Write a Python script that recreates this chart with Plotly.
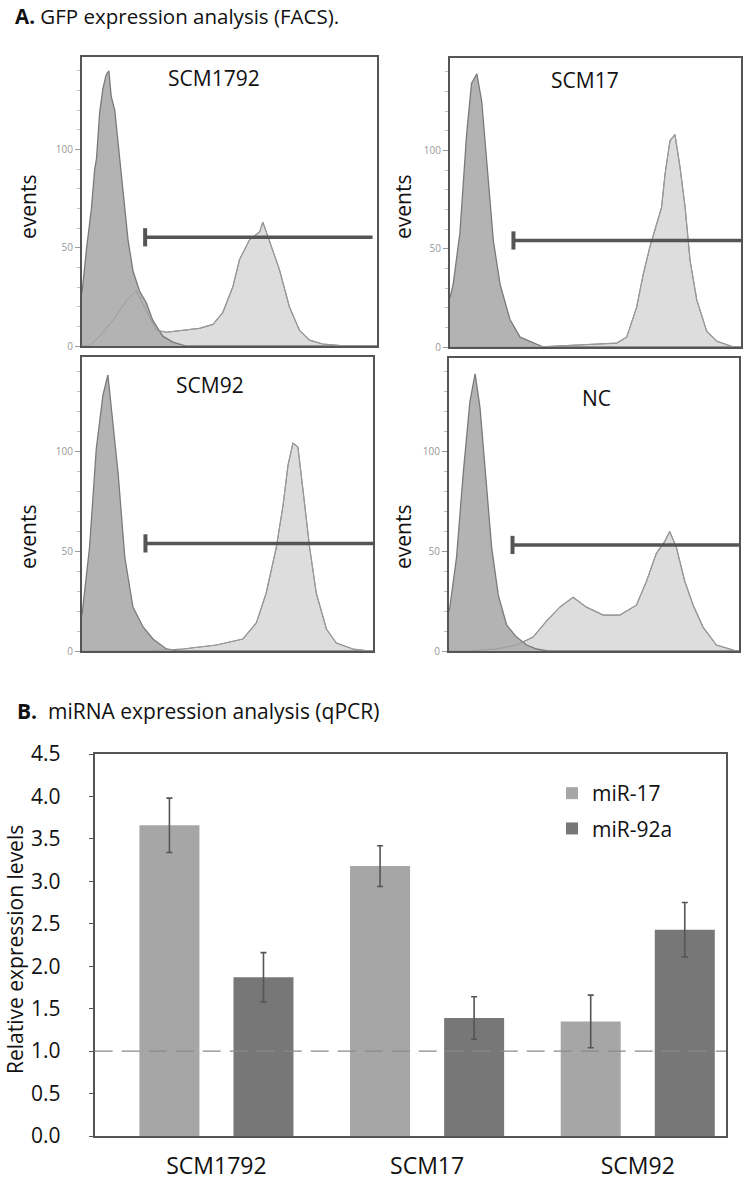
import plotly.graph_objects as go

# ---------------- Panel A data (FACS histograms, x = GFP channel 0-100, y = events) ----------------
scm1792_neg_x = [0, 1.5, 3.2, 4.3, 4.9, 6.0, 7.1, 8.2, 9.1, 9.9, 11.1, 12.2, 13.9, 15.6, 17.3, 19.5, 21.8, 24.0, 27.4, 30.8, 35.3, 100]
scm1792_neg_y = [27, 49, 70, 90, 95, 119, 131, 138, 140, 127, 120, 104, 80, 54, 38, 28, 22, 13, 5, 2, 0, 0]
scm1792_gfp_x = [0, 2.6, 6.0, 10.5, 15.0, 18.4, 21.8, 25.2, 28.6, 34.2, 39.8, 44.4, 47.7, 51.1, 53.4, 56.8, 60.2, 61.3, 63.5, 66.9, 70.3, 73.7, 77.1, 81.6, 89.5, 100]
scm1792_gfp_y = [0, 0, 5, 13, 23, 28, 18, 8, 7, 8, 9, 11, 17, 30, 44, 54, 58, 63, 54, 39, 20, 8, 3, 1, 0, 0]

scm17_neg_x = [0, 1.1, 3.4, 5.7, 7.4, 9.2, 10.9, 12.6, 14.9, 17.2, 20.6, 24.1, 28.6, 32.1, 100]
scm17_neg_y = [25, 32, 58, 108, 134, 139, 125, 95, 54, 32, 14, 5, 2, 0, 0]
scm17_gfp_x = [0, 29.8, 57.3, 60.7, 64.1, 66.4, 68.7, 71.0, 72.7, 73.9, 75.6, 77.3, 79.0, 80.8, 82.5, 84.8, 88.2, 91.6, 97.4, 100]
scm17_gfp_y = [0, 0, 2, 5, 20, 37, 51, 63, 71, 88, 105, 108, 92, 71, 44, 24, 8, 3, 0, 0]

scm92_neg_x = [0, 0.3, 2.6, 4.9, 7.2, 8.9, 10.7, 12.4, 14.7, 17.5, 21.0, 24.4, 29.0, 33.0, 100]
scm92_neg_y = [18, 22, 52, 101, 128, 138, 114, 89, 47, 22, 12, 6, 1, 0, 0]
scm92_gfp_x = [0, 23.3, 34.7, 46.2, 55.3, 59.9, 63.3, 66.8, 69.1, 70.8, 72.5, 74.2, 75.9, 78.2, 80.5, 84.0, 87.4, 93.1, 98.9, 100]
scm92_gfp_y = [0, 0, 1, 3, 6, 14, 29, 52, 73, 93, 104, 102, 81, 52, 29, 11, 4, 1, 0, 0]

nc_neg_x = [0, 0.3, 2.6, 4.9, 7.2, 9.0, 10.7, 12.4, 14.7, 17.0, 19.9, 23.3, 26.8, 30.2, 34.0, 100]
nc_neg_y = [20, 22, 47, 89, 125, 139, 122, 94, 52, 28, 13, 7, 3, 1, 0, 0]
nc_gfp_x = [0, 7.2, 16.4, 23.3, 29.0, 33.6, 38.2, 42.8, 47.4, 53.2, 58.9, 64.6, 68.1, 71.5, 74.4, 76.1, 78.4, 81.3, 84.2, 87.6, 92.2, 96.8, 99.1, 100]
nc_gfp_y = [0, 0, 1, 3, 7, 15, 22, 27, 22, 18, 18, 23, 35, 49, 55, 60, 52, 35, 23, 12, 3, 1, 0, 0]

panel_names = ["SCM1792", "SCM17", "SCM92", "NC"]
gate_start = [21.4, 21.8, 21.8, 21.9]
gate_end = [98.5, 100, 100, 100]
gate_level = [55.3, 54.2, 53.8, 53.2]
events_ticks = [0, 50, 100]

# ---------------- Panel B data (qPCR) ----------------
categories = ["SCM1792", "SCM17", "SCM92"]
mir17 = [3.66, 3.18, 1.35]
mir17_err = [0.32, 0.24, 0.31]
mir92a = [1.87, 1.39, 2.43]
mir92a_err = [0.29, 0.25, 0.32]
b_ticks = [0.0, 0.5, 1.0, 1.5, 2.0, 2.5, 3.0, 3.5, 4.0, 4.5]
ref_level = 1.0

# ---------------- layout helpers ----------------
W, H = 750, 1183
def px(x):
    return x / W
def py(y):
    return 1 - y / H

FONT = "Open Sans"
fig = go.Figure()

neg_xs = [scm1792_neg_x, scm17_neg_x, scm92_neg_x, nc_neg_x]
neg_ys = [scm1792_neg_y, scm17_neg_y, scm92_neg_y, nc_neg_y]
gfp_xs = [scm1792_gfp_x, scm17_gfp_x, scm92_gfp_x, nc_gfp_x]
gfp_ys = [scm1792_gfp_y, scm17_gfp_y, scm92_gfp_y, nc_gfp_y]

# frame boxes in page pixels: (left, right, top, bottom)
frames = [(82, 377, 57, 346), (450, 741, 58, 347), (82, 373, 357, 651), (449, 739, 358, 651)]
title_pos = [(214, 78), (585, 80), (210, 385), (596, 398)]
events_pos = [(28, 207), (403, 207), (28, 537), (403, 537)]


def note(text, x, y, size, angle=0, xanchor="center"):
    fig.add_annotation(text=text, x=px(x), y=py(y), xref="paper", yref="paper",
                       xanchor=xanchor, yanchor="middle", textangle=angle, showarrow=False,
                       borderpad=0, font=dict(family=FONT, size=size, color="#111111"))


for i in range(4):
    n = i + 1
    xr = "x" if n == 1 else f"x{n}"
    yr = "y" if n == 1 else f"y{n}"
    common = dict(xaxis=xr, yaxis=yr, showlegend=False, hoverinfo="skip")
    fig.add_trace(go.Scatter(x=gfp_xs[i], y=gfp_ys[i], mode="lines", fill="tozeroy",
                             fillcolor="#dddddd", line=dict(color="#8c8c8c", width=1.2), **common))
    fig.add_trace(go.Scatter(x=neg_xs[i], y=neg_ys[i], mode="lines", fill="tozeroy",
                             fillcolor="#b3b3b3", line=dict(color="#7a7a7a", width=1.3), **common))
    fig.add_trace(go.Scatter(x=gfp_xs[i], y=gfp_ys[i], mode="lines",
                             line=dict(color="#9a9a9a", width=1), **common))
    fig.add_trace(go.Scatter(x=[gate_start[i], gate_end[i]], y=[gate_level[i], gate_level[i]],
                             mode="lines", line=dict(color="#555555", width=3.5), **common))
    fig.add_trace(go.Scatter(x=[gate_start[i]], y=[gate_level[i]], mode="markers",
                             marker=dict(symbol="line-ns", size=13, line=dict(color="#555555", width=4)),
                             **common))

    l, r, t, b = frames[i]
    xkey = "xaxis" if n == 1 else f"xaxis{n}"
    ykey = "yaxis" if n == 1 else f"yaxis{n}"
    fig.update_layout(**{
        xkey: dict(domain=[px(l), px(r)], range=[0, 100], anchor=yr, showticklabels=False,
                   ticks="", showgrid=False, zeroline=False, showline=True, mirror=True,
                   linecolor="#555555", linewidth=2, fixedrange=True, automargin=False),
        ykey: dict(domain=[py(b), py(t)], range=[0, 147], anchor=xr, tickmode="array",
                   tickvals=events_ticks, ticks="outside", ticklen=5, tickwidth=1, tickcolor="#9a9a9a",
                   tickfont=dict(family=FONT, size=10, color="#999999"),
                   minor=dict(tickmode="linear", tick0=0, dtick=10, ticks="outside", ticklen=3,
                              tickcolor="#c0c0c0", showgrid=False),
                   showgrid=False, zeroline=False, showline=True, mirror=True,
                   linecolor="#555555", linewidth=2, fixedrange=True, automargin=False),
    })
    tx, ty = title_pos[i]
    note(panel_names[i], tx, ty, 21)
    ex, ey = events_pos[i]
    note("events", ex, ey, 21, angle=-90)

# ---------------- Panel B ----------------
fig.add_trace(go.Bar(x=categories, y=mir17, name="miR-17", marker=dict(color="#a6a6a6", line=dict(width=0)),
                     error_y=dict(type="data", array=mir17_err, color="#555555", thickness=1.6, width=3),
                     xaxis="x5", yaxis="y5", legendgroup="a"))
fig.add_trace(go.Bar(x=categories, y=mir92a, name="miR-92a", marker=dict(color="#777777", line=dict(width=0)),
                     error_y=dict(type="data", array=mir92a_err, color="#555555", thickness=1.6, width=3),
                     xaxis="x5", yaxis="y5", legendgroup="b"))

fig.add_shape(type="line", xref="x5 domain", yref="y5", x0=0, x1=1, y0=ref_level, y1=ref_level,
              line=dict(color="#8a8a8a", width=1.2, dash="18px,9px"), layer="above")

fig.update_layout(
    xaxis5=dict(domain=[px(94.7), px(726)], anchor="y5", type="category", range=[-0.578, 2.419],
                showline=True, mirror=True,
                linecolor="#555555", linewidth=2, ticks="", showgrid=False, zeroline=False,
                tickfont=dict(family=FONT, size=23, color="#111111"), ticklabelstandoff=8,
                fixedrange=True, automargin=False),
    yaxis5=dict(domain=[py(1136), py(754)], anchor="x5", range=[0, 4.5], tickmode="array",
                tickvals=b_ticks, tickformat=".1f", ticks="outside", ticklen=4, tickcolor="#555555",
                tickfont=dict(family=FONT, size=21, color="#111111"), ticklabelstandoff=24,
                showline=True, mirror=True, linecolor="#555555", linewidth=2,
                showgrid=False, zeroline=False, fixedrange=True, automargin=False),
    barmode="group", bargap=0.107, bargroupgap=0.362,
)

note("Relative expression levels", 15, 950, 21, angle=-90)
note("<b>A.</b> GFP expression analysis (FACS).", 14, 16, 20.5, xanchor="left")
note("<b>B.</b>  miRNA expression analysis (qPCR)", 16, 711, 21, xanchor="left")

fig.update_layout(
    width=W, height=H, margin=dict(l=0, r=0, t=0, b=0, pad=0, autoexpand=False),
    paper_bgcolor="white", plot_bgcolor="white",
    font=dict(family=FONT, color="#111111"),
    legend=dict(x=px(552), y=py(773), xanchor="left", yanchor="top", traceorder="grouped",
                tracegroupgap=5, bgcolor="rgba(0,0,0,0)", font=dict(family=FONT, size=21, color="#111111")),
)

# remove the browser's default 8px body margin so the 750x1183 figure fills the window exactly
fig.write_html("out.html", config={"displayModeBar": False},
               post_script="document.body.style.margin='0px';")
